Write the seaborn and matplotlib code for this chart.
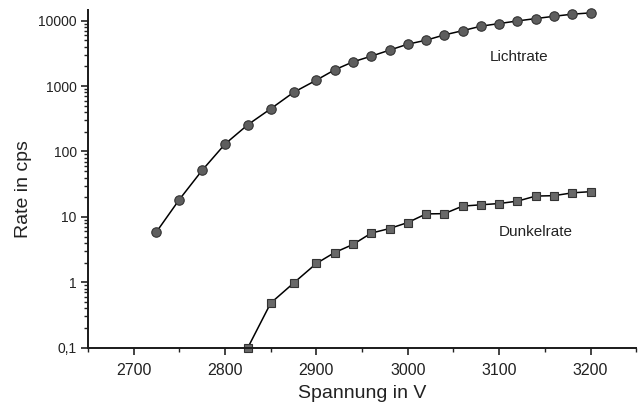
import matplotlib
matplotlib.use("Agg")
import matplotlib.pyplot as plt
import matplotlib.ticker as mticker
import numpy as np
import pandas as pd
import seaborn as sns

# Photomultiplier count rates versus supply voltage
licht_voltage = [2725, 2750, 2775, 2800, 2825, 2850, 2875, 2900, 2920, 2940, 2960, 2980,
                 3000, 3020, 3040, 3060, 3080, 3100, 3120, 3140, 3160, 3180, 3200]
licht_rate = [5.9, 18.4, 51.6, 130, 257, 450, 802, 1235, 1775, 2350, 2870, 3550,
              4380, 5040, 6070, 7050, 8250, 9060, 9930, 10800, 11700, 12600, 13200]

dunkel_voltage = [2825, 2850, 2875, 2900, 2920, 2940, 2960, 2980, 3000, 3020, 3040,
                  3060, 3080, 3100, 3120, 3140, 3160, 3180, 3200]
dunkel_rate = [0.1, 0.48, 0.97, 1.94, 2.85, 3.78, 5.64, 6.63, 8.19, 11.1, 11.2,
               14.6, 15.3, 16.0, 17.4, 20.8, 21.1, 23.3, 24.3]

y_ticks = [0.1, 1, 10, 100, 1000, 10000]
y_tick_labels = ["0,1", "1", "10", "100", "1000", "10000"]
x_ticks = [2700, 2800, 2900, 3000, 3100, 3200]

series_labels = ["Lichtrate", "Dunkelrate"]

sns.set_style("ticks")
plt.rcParams["font.family"] = ["Liberation Sans", "DejaVu Sans"]

fig = plt.figure(figsize=(6.42, 4.08), dpi=100)
ax = fig.add_axes([0.137, 0.148, 0.854, 0.827])

licht = pd.DataFrame({"U": licht_voltage, "rate": licht_rate})
dunkel = pd.DataFrame({"U": dunkel_voltage, "rate": dunkel_rate})

sns.lineplot(data=licht, x="U", y="rate", ax=ax, color="black", linewidth=1.1,
             marker="o", markersize=6.8, markerfacecolor="#5e5e5e",
             markeredgecolor="#333333", markeredgewidth=0.8, clip_on=False)
sns.lineplot(data=dunkel, x="U", y="rate", ax=ax, color="black", linewidth=1.1,
             marker="s", markersize=5.8, markerfacecolor="#686868",
             markeredgecolor="#333333", markeredgewidth=0.8, clip_on=False)

ax.set_yscale("log")
ax.set_xlim(2650, 3250)
ax.set_ylim(0.1, 14500)

ax.set_yticks(y_ticks)
ax.set_yticklabels(y_tick_labels)
ax.yaxis.set_minor_locator(mticker.LogLocator(base=10, subs=np.arange(2, 10)))
ax.yaxis.set_minor_formatter(mticker.NullFormatter())

ax.set_xticks(x_ticks)
ax.xaxis.set_minor_locator(mticker.MultipleLocator(50))

ax.tick_params(axis="both", which="major", direction="out", length=5, width=1.2,
               colors="#222222")
ax.tick_params(axis="x", which="major", labelsize=11.5, pad=6)
ax.tick_params(axis="y", which="major", labelsize=10, pad=3)
ax.tick_params(axis="both", which="minor", direction="out", length=3, width=1.0,
               colors="#222222")

sns.despine(ax=ax)
for side in ("left", "bottom"):
    ax.spines[side].set_linewidth(1.4)
    ax.spines[side].set_color("#1a1a1a")

ax.set_xlabel("Spannung in V", fontsize=14, color="#222222", labelpad=5)
ax.set_ylabel("Rate in cps", fontsize=14, color="#222222")
ax.yaxis.set_label_coords(-0.102, 0.47)

ax.text(3090, 2760, series_labels[0], fontsize=11, color="#222222",
        ha="left", va="center")
ax.text(3100, 5.9, series_labels[1], fontsize=11, color="#222222",
        ha="left", va="center")

fig.savefig("out.png", dpi=100)
